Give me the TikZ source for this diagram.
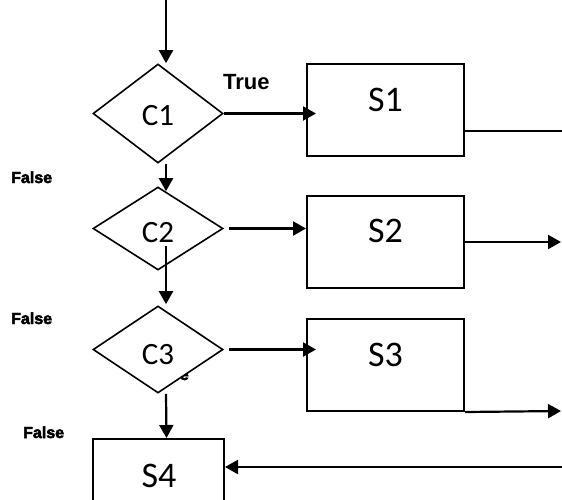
\documentclass[tikz,border=0pt]{standalone}
\usepackage{fontspec}
\setmainfont{Carlito}
\newfontfamily\arialb{Liberation Sans Bold}
\newfontfamily\heavy{Liberation Sans Bold}[FakeBold=3]
\usetikzlibrary{arrows.meta,shapes.geometric}
\begin{document}
\begin{tikzpicture}[x=1pt,y=-1pt,
  dia/.style={draw, line width=1.6pt, shape=diamond, fill=white, minimum width=130pt, inner sep=0pt},
  sbox/.style={draw, line width=2pt, rectangle, fill=white, minimum width=157pt, minimum height=92pt, inner sep=0pt},
  ctext/.style={font=\fontsize{31}{31}\selectfont, inner sep=0pt},
  stext/.style={font=\fontsize{36}{36}\selectfont, inner sep=0pt},
  lbl/.style={font=\heavy\fontsize{16}{16}\selectfont, inner sep=0pt},
  truelbl/.style={font=\arialb\fontsize{22}{22}\selectfont, inner sep=0pt},
  conn/.style={line width=2.2pt},
  arr/.style={conn, -{Triangle[length=13pt,width=14pt]}}]
\useasboundingbox (0,0) rectangle (562,499);
\clip (0,0) rectangle (562,499);
\fill[white] (0,0) rectangle (562,499);

% fragment of a label partly covered by C3
\node[lbl, anchor=base east] (T3) at (189,380) {e};

% decisions
\node[dia, minimum height=99pt] (C1) at (158,113.5) {};
\node[dia, minimum height=83pt] (C2) at (158,228.5) {};
\node[dia, minimum height=87pt] (C3) at (158,349.5) {};
\node[ctext] (C1t) at (158,116) {C1};
\node[ctext] (C2t) at (158,233) {C2};
\node[ctext] (C3t) at (158,355) {C3};

% statements
\node[sbox] (S1) at (385.5,110) {};
\node[sbox] (S2) at (385.5,242) {};
\node[sbox] (S3) at (385.5,365) {};
\node[sbox, minimum width=131pt, minimum height=71pt] (S4) at (158.5,474.5) {};
\node[stext] (S1t) at (385.5,100) {S1};
\node[stext] (S2t) at (385.5,231) {S2};
\node[stext] (S3t) at (385.5,355) {S3};
\node[stext] (S4t) at (159,476) {S4};

% labels
\node[truelbl, anchor=base west] (T1) at (223,89) {True};
\node[lbl, anchor=base west] (F1) at (11,183) {False};
\node[lbl, anchor=base west] (F2) at (11,324) {False};
\node[lbl, anchor=base west] (F3) at (23,438) {False};

% free ends
\coordinate (top) at (166,0);
\coordinate (e1) at (562,131);
\coordinate (e2) at (561,242);
\coordinate (e3) at (561,411);
\coordinate (e4) at (562,467);

% connectors
\draw[arr] (top) -- ([xshift=8pt]C1.north);
\draw[arr] ([xshift=8pt]C1.south) -- ([xshift=8pt,yshift=-5pt]C2.north);
\draw[arr] ([xshift=8pt,yshift=-17pt]C2.center) -- ([xshift=8pt,yshift=1pt]C3.north);
\draw[arr] ([xshift=8pt]C3.south) -- ([xshift=8pt]S4.north);

\draw[arr] (C1.east) -- ([xshift=10pt]C1.east -| S1.west);
\draw[arr] ([xshift=5pt]C2.east) -- (C2.east -| S2.west);
\draw[arr] ([xshift=5pt]C3.east) -- ([xshift=10pt]C3.east -| S3.west);

\draw[conn] ([yshift=-21pt]S1.east) -- (e1);
\draw[arr] (S2.east) -- (e2);
\draw[arr] (S3.south east) -- (e3);
\draw[arr] (e4) -- (e4 -| S4.east);
\end{tikzpicture}
\end{document}
